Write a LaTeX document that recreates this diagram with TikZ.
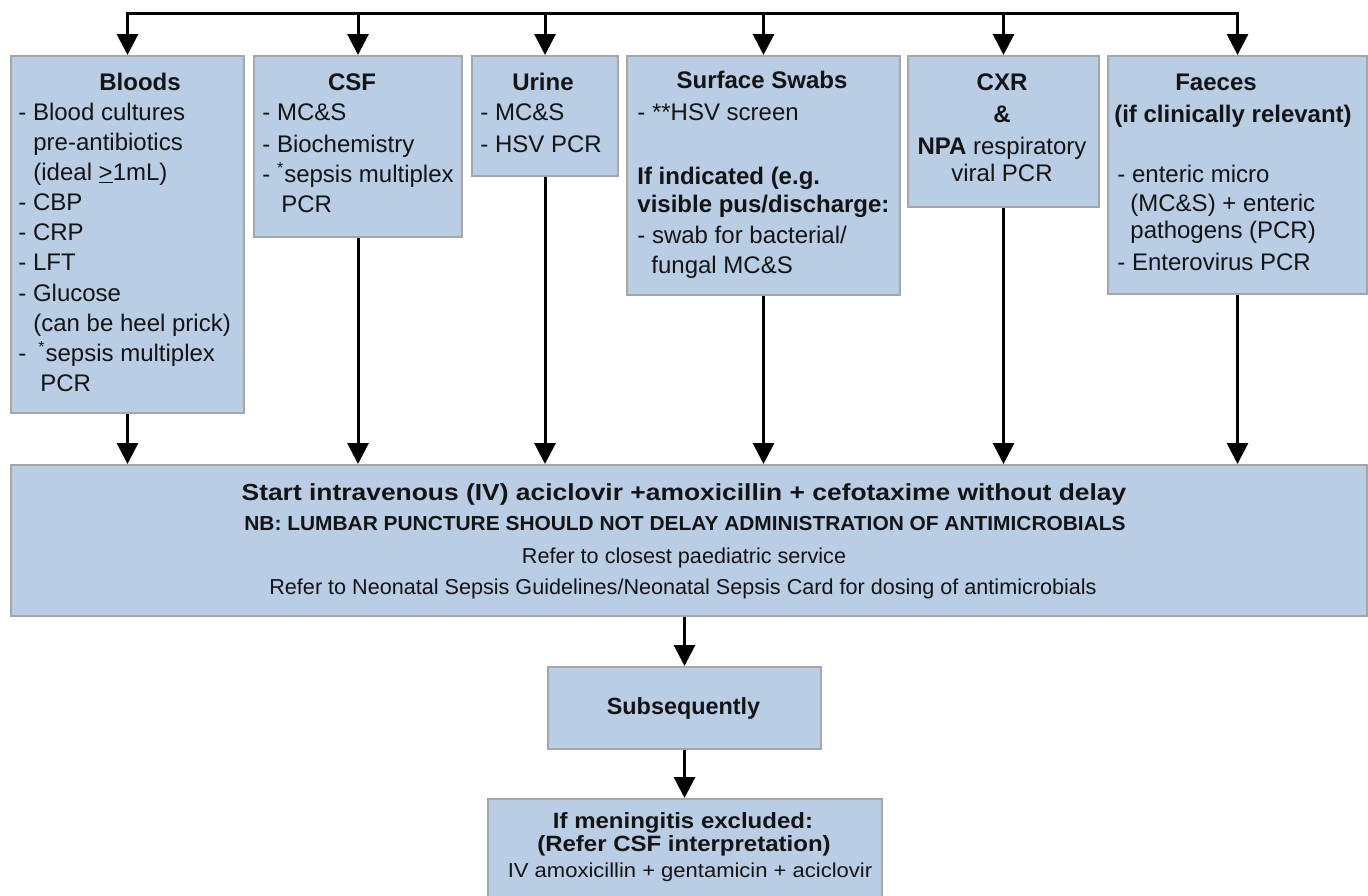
\documentclass[tikz,border=0pt]{standalone}
\usepackage{fontspec}
\setmainfont{Liberation Sans}
\usepackage{graphicx}
\usetikzlibrary{arrows.meta}
\definecolor{boxfill}{HTML}{B9CDE5}
\definecolor{boxline}{HTML}{A6A6A6}
\definecolor{txt}{HTML}{141414}
\newcommand\sq[2][0.88]{\scalebox{1}[#1]{#2}}
\begin{document}
\begin{tikzpicture}[x=0.5pt,y=-0.5pt,
  box/.style={draw=boxline, fill=boxfill, line width=1pt, inner sep=0pt, anchor=north west},
  arr/.style={-{Triangle[width=10.5pt,length=10.5pt]}, line width=1.5pt, line join=miter},
  tl/.style={anchor=base west, inner sep=0pt, text=txt, font=\fontsize{12}{14}\selectfont},
  tc/.style={tl, anchor=base},
  tlb/.style={tl, font=\fontsize{12}{14}\selectfont\bfseries},
  tcb/.style={tc, font=\fontsize{12}{14}\selectfont\bfseries}]
\useasboundingbox (0,0) rectangle (1368,895);

% boxes
\node[box, minimum width=116.5pt, minimum height=178.5pt] (bl) at (10,55) {};
\node[box, minimum width=104pt, minimum height=90.5pt] (cs) at (253,55) {};
\node[box, minimum width=73pt, minimum height=60pt] (ur) at (471,55) {};
\node[box, minimum width=136.5pt, minimum height=119.5pt] (sw) at (626,55) {};
\node[box, minimum width=95.5pt, minimum height=75.5pt] (cx) at (907,55) {};
\node[box, minimum width=129.5pt, minimum height=119pt] (fa) at (1107,55) {};
\node[box, minimum width=678pt, minimum height=75.5pt] (big) at (10,464) {};
\node[box, minimum width=136.5pt, minimum height=41pt] (sub) at (547,666) {};
\node[box, minimum width=197pt, minimum height=60pt] (last) at (487,798) {};

% Bloods
\node[tcb] (blT) at (140,90) {Bloods};
\node[tl] (bl1) at (18,120) {- Blood cultures};
\node[tl] (bl2) at (33,150) {pre-antibiotics};
\node[tl] (bl3) at (33,180) {(ideal \underline{>}1mL)};
\node[tl] (bl4) at (18,210) {- CBP};
\node[tl] (bl5) at (18,240) {- CRP};
\node[tl] (bl6) at (18,270) {- LFT};
\node[tl] (bl7) at (18,301) {- Glucose};
\node[tl] (bl8) at (33,331) {(can be heel prick)};
\node[tl] (bl9) at (18,361) {-\hspace{0.5em}\textsuperscript{*}sepsis multiplex};
\node[tl] (bl10) at (40,391) {PCR};

% CSF
\node[tcb] (csT) at (352,90) {CSF};
\node[tl] (cs1) at (262,120) {- MC\&S};
\node[tl] (cs2) at (262,152) {- Biochemistry};
\node[tl] (cs3) at (262,182) {- \textsuperscript{*}sepsis multiplex};
\node[tl] (cs4) at (281,212) {PCR};

% Urine
\node[tcb] (urT) at (543,90) {Urine};
\node[tl] (ur1) at (480,120) {- MC\&S};
\node[tl] (ur2) at (480,152) {- HSV PCR};

% Surface swabs
\node[tcb] (swT) at (762,88) {Surface Swabs};
\node[tl] (sw1) at (637,120) {- **HSV screen};
\node[tlb] (sw2) at (637,184) {If indicated (e.g.};
\node[tlb] (sw3) at (637,212) {visible pus/discharge:};
\node[tl] (sw4) at (637,243) {- swab for bacterial/};
\node[tl] (sw5) at (651,273) {fungal MC\&S};

% CXR
\node[tcb] (cxT) at (1002,90) {CXR};
\node[tcb] (cx1) at (1002,122) {\&};
\node[tc] (cx2) at (1002,154) {\textbf{NPA} respiratory};
\node[tc] (cx3) at (1002,181) {viral PCR};

% Faeces
\node[tcb] (faT) at (1216,90) {Faeces};
\node[tcb] (fa1) at (1233,122) {(if clinically relevant)};
\node[tl] (fa2) at (1117,182) {- enteric micro};
\node[tl] (fa3) at (1130,211) {(MC\&S) + enteric};
\node[tl] (fa4) at (1130,238) {pathogens (PCR)};
\node[tl] (fa5) at (1117,270) {- Enterovirus PCR};

% big box
\node[tc, font=\fontsize{13.2}{15}\selectfont\bfseries] (bg1) at (684,500)
  {\sq{Start intravenous (IV) aciclovir +amoxicillin + cefotaxime without delay}};
\node[tc, font=\fontsize{10.45}{13}\selectfont\bfseries] (bg2) at (685,530)
  {\sq[0.97]{NB: LUMBAR PUNCTURE SHOULD NOT DELAY ADMINISTRATION OF ANTIMICROBIALS}};
\node[tc, font=\fontsize{10.8}{13}\selectfont] (bg3) at (684,563)
  {Refer to closest paediatric service};
\node[tc, font=\fontsize{10.8}{13}\selectfont] (bg4) at (683,594)
  {Refer to Neonatal Sepsis Guidelines/Neonatal Sepsis Card for dosing of antimicrobials};

% subsequently
\node[tc, font=\fontsize{11.7}{14}\selectfont\bfseries] (sub1) at (683.5,714) {Subsequently};

% last box
\node[tc, font=\fontsize{12}{14}\selectfont\bfseries] (ls1) at (683,828) {\sq[0.92]{If meningitis excluded:}};
\node[tc, font=\fontsize{12}{14}\selectfont\bfseries] (ls2) at (684,851) {\sq[0.92]{(Refer CSF interpretation)}};
\node[tc, font=\fontsize{11}{13}\selectfont] (ls3) at (690,877) {\sq[0.92]{IV amoxicillin + gentamicin + aciclovir}};

% connectors
\coordinate (bus) at (0,13);
\draw[arr] (sw.north |- bus) -| (bl.north);
\draw[arr] (sw.north |- bus) -| (fa.north);
\foreach \n in {cs,ur,sw,cx} \draw[arr] (\n.north |- bus) -- (\n.north);
\foreach \n in {bl,cs,ur,sw,cx,fa} \draw[arr] (\n.south) -- (\n.south |- big.north);
\draw[arr] (sub.north |- big.south) -- (sub.north);
\draw[arr] (sub.south) -- (sub.south |- last.north);
\end{tikzpicture}
\end{document}
